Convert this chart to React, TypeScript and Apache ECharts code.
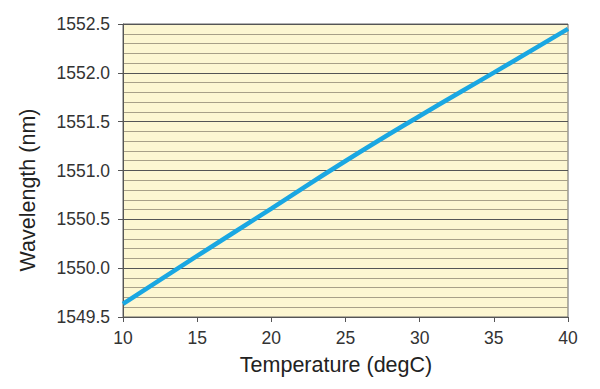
import React, { useEffect, useRef } from "react";
import * as echarts from "echarts";

const temperatures = [10, 15, 20, 25, 30, 35, 40];
const wavelengths = [1549.635, 1550.125, 1550.61, 1551.097, 1551.558, 1552.002, 1552.45];
const xTitle = "Temperature (degC)";
const yTitle = "Wavelength (nm)";

const FONT = "'Liberation Sans', Arial, Helvetica, sans-serif";

export default function App() {
  const ref = useRef<HTMLDivElement>(null);
  useEffect(() => {
    document.body.style.margin = "0";
    if (!ref.current) return;
    const chart = echarts.init(ref.current, null, { renderer: "svg" });
    chart.setOption({
      animation: false,
      backgroundColor: "#ffffff",
      grid: {
        left: 123,
        right: 32,
        top: 24,
        bottom: 72,
        show: true,
        backgroundColor: "#FDF7D2",
        borderColor: "#666666",
        borderWidth: 1,
      },
      xAxis: {
        type: "value",
        min: 10,
        max: 40,
        interval: 5,
        axisLine: { show: true, lineStyle: { color: "#555555", width: 1 } },
        axisTick: { show: true, length: 5, lineStyle: { color: "#555555" } },
        axisLabel: { color: "#333333", fontSize: 17.5, fontFamily: FONT, margin: 12 },
        splitLine: { show: false },
      },
      yAxis: {
        type: "value",
        min: 1549.5,
        max: 1552.5,
        interval: 0.5,
        axisLine: { show: true, lineStyle: { color: "#555555", width: 1 } },
        axisTick: { show: true, length: 5, lineStyle: { color: "#555555" } },
        axisLabel: {
          color: "#333333",
          fontSize: 17.5,
          fontFamily: FONT,
          margin: 13,
          formatter: (v: number) => v.toFixed(1),
        },
        splitLine: { show: true, lineStyle: { color: "#555555", width: 1 } },
        minorTick: { show: false, splitNumber: 5 },
        minorSplitLine: { show: true, lineStyle: { color: "#A8A088", width: 1 } },
      },
      graphic: [
        {
          type: "text",
          x: 336,
          y: 354,
          style: {
            text: xTitle,
            fontSize: 21.5,
            fontFamily: FONT,
            fill: "#222222",
            align: "center",
            verticalAlign: "top",
          },
        },
        {
          type: "text",
          x: 17,
          y: 190,
          rotation: Math.PI / 2,
          style: {
            text: yTitle,
            fontSize: 21.5,
            fontFamily: FONT,
            fill: "#222222",
            align: "center",
            verticalAlign: "top",
          },
        },
      ],
      series: [
        {
          type: "line",
          data: temperatures.map((t, i) => [t, wavelengths[i]]),
          smooth: true,
          showSymbol: false,
          lineStyle: { color: "#1AA7E2", width: 4.5 },
        },
      ],
    });
    return () => chart.dispose();
  }, []);
  return <div ref={ref} style={{ width: 600, height: 389 }} />;
}
